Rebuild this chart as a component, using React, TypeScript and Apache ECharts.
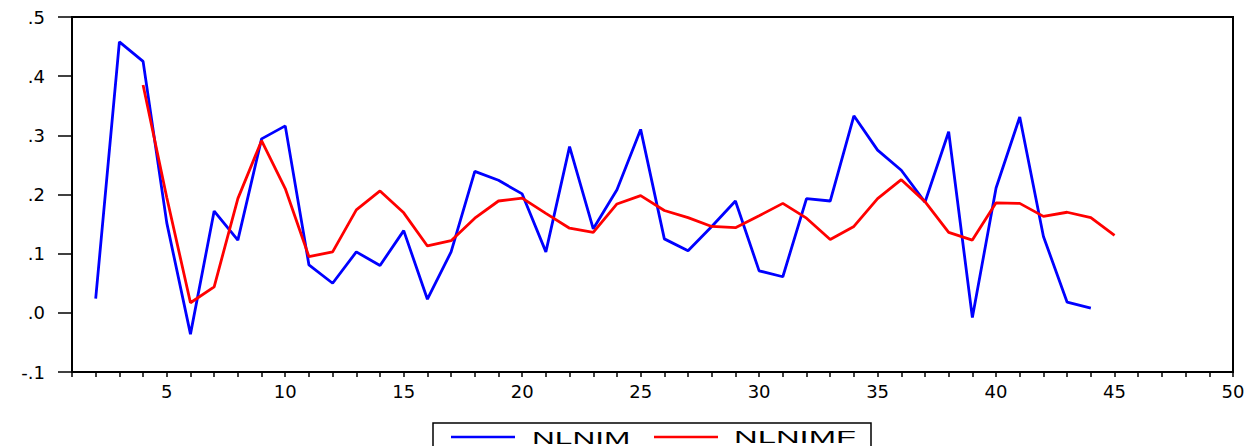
import React, { useEffect, useRef } from "react";
import * as echarts from "echarts";

// Observation index where each series starts
const NLNIM_START = 2;
const NLNIMF_START = 4;

// NLNIM (blue), observations 2..44
const nlnim = [
  0.024, 0.458, 0.425, 0.152, -0.036, 0.172, 0.123, 0.294, 0.316, 0.081,
  0.05, 0.103, 0.08, 0.139, 0.023, 0.103, 0.239, 0.224, 0.201, 0.103,
  0.281, 0.142, 0.208, 0.31, 0.125, 0.105, 0.146, 0.189, 0.071, 0.061,
  0.193, 0.189, 0.333, 0.275, 0.241, 0.187, 0.306, -0.008, 0.211, 0.331,
  0.129, 0.018, 0.008,
];

// NLNIMF (red), observations 4..45
const nlnimf = [
  0.385, 0.195, 0.017, 0.044, 0.193, 0.291, 0.21, 0.095, 0.103, 0.174,
  0.206, 0.169, 0.113, 0.122, 0.16, 0.189, 0.194, 0.168, 0.143, 0.136,
  0.184, 0.198, 0.173, 0.161, 0.146, 0.144, 0.164, 0.185, 0.16, 0.124,
  0.146, 0.193, 0.225, 0.188, 0.136, 0.123, 0.186, 0.185, 0.163, 0.17,
  0.161, 0.131,
];

const seriesNames = ["NLNIM", "NLNIMF"];
const xMin = 1;
const xMax = 50;
const yMin = -0.1;
const yMax = 0.5;
const yStep = 0.1;

function fmtY(v: number): string {
  const s = v.toFixed(1);
  return s.replace(/^(-?)0\./, "$1.");
}

export default function App() {
  const ref = useRef<HTMLDivElement>(null);
  useEffect(() => {
    if (!ref.current) return;
    const chart = echarts.init(ref.current, null, { renderer: "svg" });
    const blueData = nlnim.map((v, i) => [NLNIM_START + i, v]);
    const redData = nlnimf.map((v, i) => [NLNIMF_START + i, v]);
    const legendFont = "Liberation Sans, Arial, sans-serif";
    chart.setOption({
      animation: false,
      backgroundColor: "#ffffff",
      grid: {
        left: 72,
        right: 20,
        top: 17,
        bottom: 74,
        show: true,
        borderColor: "#000",
        borderWidth: 2,
        backgroundColor: "transparent",
      },
      xAxis: {
        type: "value",
        min: xMin,
        max: xMax,
        interval: 1,
        axisLine: { show: true, onZero: false, lineStyle: { color: "#000", width: 2 } },
        axisTick: { show: true, inside: false, length: 5, lineStyle: { color: "#000", width: 1.5 } },
        splitLine: { show: false },
        axisLabel: {
          margin: 10,
          color: "#000",
          fontFamily: "DejaVu Sans",
          fontSize: 18,
          formatter: (v: number) => (v % 5 === 0 ? String(v) : ""),
        },
      },
      yAxis: {
        type: "value",
        min: yMin,
        max: yMax,
        interval: yStep,
        axisLine: { show: true, onZero: false, lineStyle: { color: "#000", width: 2 } },
        axisTick: { show: true, inside: false, length: 14, lineStyle: { color: "#000", width: 1.5 } },
        splitLine: { show: false },
        axisLabel: {
          margin: 27,
          color: "#000",
          fontFamily: "DejaVu Sans",
          fontSize: 18,
          formatter: (v: number) => fmtY(v),
        },
      },
      series: [
        {
          name: seriesNames[0],
          type: "line",
          data: blueData,
          showSymbol: false,
          symbol: "none",
          lineStyle: { color: "#0000ff", width: 2.8 },
          itemStyle: { color: "#0000ff" },
        },
        {
          name: seriesNames[1],
          type: "line",
          data: redData,
          showSymbol: false,
          symbol: "none",
          lineStyle: { color: "#ff0000", width: 2.8 },
          itemStyle: { color: "#ff0000" },
        },
      ],
      graphic: [
        {
          type: "rect",
          shape: { x: 433, y: 423, width: 438, height: 40 },
          style: { fill: "#fff", stroke: "#000", lineWidth: 1.5 },
        },
        {
          type: "line",
          shape: { x1: 451, y1: 437, x2: 515, y2: 437 },
          style: { stroke: "#0000ff", lineWidth: 2.5 },
        },
        {
          type: "text",
          x: 532,
          y: 429,
          scaleX: 1.86,
          style: {
            text: seriesNames[0],
            x: 0,
            y: 0,
            fontFamily: legendFont,
            fontSize: 17,
            fill: "#000",
            textVerticalAlign: "top",
          },
        },
        {
          type: "line",
          shape: { x1: 654, y1: 437, x2: 718, y2: 437 },
          style: { stroke: "#ff0000", lineWidth: 2.5 },
        },
        {
          type: "text",
          x: 734,
          y: 429,
          scaleX: 1.93,
          style: {
            text: seriesNames[1],
            x: 0,
            y: 0,
            fontFamily: legendFont,
            fontSize: 17,
            fill: "#000",
            textVerticalAlign: "top",
          },
        },
      ],
    });
    return () => chart.dispose();
  }, []);
  return (
    <div
      ref={ref}
      style={{ position: "absolute", left: 0, top: 0, width: 1253, height: 446 }}
    />
  );
}
